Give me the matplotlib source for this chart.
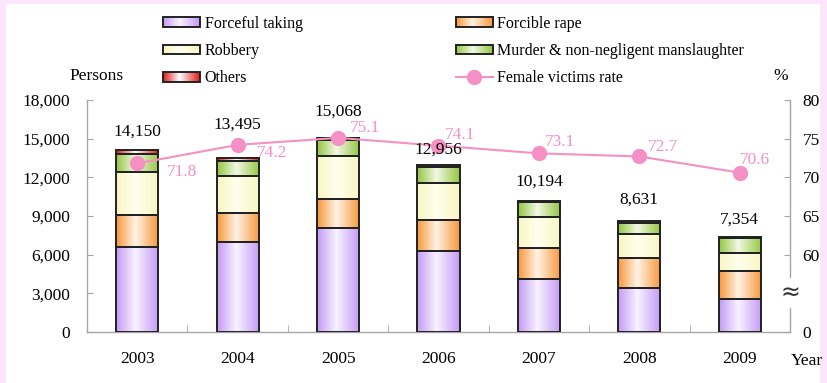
import numpy as np
import matplotlib
matplotlib.use("Agg")
import matplotlib.pyplot as plt
from matplotlib.colors import LinearSegmentedColormap
from matplotlib.patches import Rectangle
from matplotlib.lines import Line2D
from matplotlib.legend_handler import HandlerBase
from matplotlib.image import BboxImage
from matplotlib.transforms import Bbox, TransformedBbox

plt.rcParams['font.family'] = ['Liberation Serif', 'DejaVu Serif']

# ---- data ----
years = ['2003', '2004', '2005', '2006', '2007', '2008', '2009']
forceful_taking = [6600, 7000, 8050, 6300, 4100, 3400, 2550]
forcible_rape = [2500, 2200, 2300, 2400, 2450, 2380, 2200]
robbery = [3300, 2900, 3330, 2850, 2350, 1800, 1370]
murder = [1400, 1150, 1220, 1230, 1180, 900, 1150]
others = [350, 245, 168, 176, 114, 151, 84]
totals = [14150, 13495, 15068, 12956, 10194, 8631, 7354]
female_rate = [71.8, 74.2, 75.1, 74.1, 73.1, 72.7, 70.6]

series_names = ['Forceful taking', 'Forcible rape', 'Robbery',
                'Murder & non-negligent manslaughter', 'Others']

# edge colour / centre colour for the shaded bar fills
shades = {
    'Forceful taking': ('#c39af5', '#f8f2ff'),
    'Forcible rape': ('#f7973a', '#fff3e6'),
    'Robbery': ('#f8f6c0', '#ffffee'),
    'Murder & non-negligent manslaughter': ('#92c640', '#f2f8e4'),
    'Others': ('#e01818', '#ffffff'),
}
line_color = '#f590c4'
FS = 12.5
LFS = 11.5


def shade_cmap(edge, centre):
    return LinearSegmentedColormap.from_list(
        'shade', [(0.0, edge), (0.45, centre), (1.0, edge)])


grad = np.linspace(0, 1, 256).reshape(1, -1)


class GradientHandler(HandlerBase):
    def __init__(self, cmap):
        super().__init__()
        self.cmap = cmap

    def create_artists(self, legend, orig_handle, xdescent, ydescent,
                       width, height, fontsize, trans):
        bb = TransformedBbox(Bbox.from_bounds(-xdescent, -ydescent, width, height), trans)
        img = BboxImage(bb, cmap=self.cmap, interpolation='bilinear')
        img.set_data(grad)
        rect = Rectangle((-xdescent, -ydescent), width, height,
                         facecolor='none', edgecolor='#222222', linewidth=1.4,
                         transform=trans)
        return [img, rect]


W, H = 828, 383
fig = plt.figure(figsize=(W / 100, H / 100), dpi=100, facecolor='#fde6fb')
fig.patches.append(Rectangle((6 / W, 0), (W - 14) / W, (H - 4) / H,
                             transform=fig.transFigure, facecolor='white',
                             edgecolor='none', zorder=-10))

ax = fig.add_axes([87 / W, (H - 332) / H, (790 - 87) / W, (332 - 100) / H])
ax.set_facecolor('none')
x = np.arange(len(years))
bw = 0.42

stack = [forceful_taking, forcible_rape, robbery, murder, others]
bottom = np.zeros(len(years))
cmaps = {}
for name, vals in zip(series_names, stack):
    vals = np.asarray(vals, dtype=float)
    cm = shade_cmap(*shades[name])
    cmaps[name] = cm
    bars = ax.bar(x, vals, bw, bottom=bottom, facecolor='none',
                  edgecolor='#222222', linewidth=1.4, zorder=3)
    for p in bars:
        x0, y0 = p.get_x(), p.get_y()
        ax.imshow(grad, extent=(x0, x0 + p.get_width(), y0, y0 + p.get_height()),
                  cmap=cm, aspect='auto', interpolation='bilinear', zorder=2)
    bottom += vals

ax.set_xlim(-0.5, len(years) - 0.5)
ax.set_ylim(0, 18000)
ax.set_aspect('auto')

# left axis styling
for s in ['top', 'right']:
    ax.spines[s].set_visible(False)
for s in ['left', 'bottom']:
    ax.spines[s].set_color('#a6a6a6')
    ax.spines[s].set_linewidth(1.0)
ax.set_yticks(np.arange(0, 18001, 3000))
ax.set_yticklabels([f'{v:,}' for v in range(0, 18001, 3000)])
ax.tick_params(axis='y', direction='in', length=4, color='#a6a6a6',
               labelsize=FS, pad=12)
ax.set_xticks(x)
ax.set_xticklabels(years)
ax.tick_params(axis='x', which='major', length=0, labelsize=FS, pad=13.5)
ax.set_xticks(np.arange(0.5, len(years) - 1, 1.0), minor=True)
ax.tick_params(axis='x', which='minor', direction='in', length=5, color='#a6a6a6')

# right axis (percent, broken between 0 and 60)
ax2 = ax.twinx()
ax2.set_ylim(50, 80)
for s in ['top', 'left', 'bottom', 'right']:
    ax2.spines[s].set_visible(False)
ax2.set_yticks([50, 60, 65, 70, 75, 80])
ax2.set_yticklabels(['0', '60', '65', '70', '75', '80'])
ax2.tick_params(axis='y', direction='in', length=4, color='#a6a6a6',
                labelsize=FS, pad=9)
rt = ax2.get_yaxis_transform()
ax2.plot([1, 1], [50, 53.1], transform=rt, color='#a6a6a6', lw=1.0, clip_on=False)
ax2.plot([1, 1], [57.1, 80], transform=rt, color='#a6a6a6', lw=1.0, clip_on=False)
ax2.text(1.0, 55.1, '\u2248', transform=rt, ha='center', va='center',
         fontsize=17, color='#333333', family='DejaVu Sans', rotation=0)

ax2.plot(x, female_rate, color=line_color, lw=1.5, marker='o', markersize=10,
         markeredgecolor=line_color, markerfacecolor=line_color, zorder=6)
rate_offsets = [(21, -6.5), (13.7, -5.8), (8.6, 7.2), (4.3, 7.9),
                (4.3, 7.9), (5.8, 6.5), (0, 9.4)]
for xi, r, (dx, dy) in zip(x, female_rate, rate_offsets):
    ax2.annotate(f'{r}', (xi, r), xytext=(dx, dy), textcoords='offset points',
                 ha='left', va='center', fontsize=FS, color=line_color, zorder=7)

# total labels above each bar, drawn over the rate line
total_offsets = [13, 24, 19, 11, 14, 15, 13]
for xi, t, off in zip(x, totals, total_offsets):
    ax2.annotate(f'{t:,}', (xi, t), xycoords=ax.transData, xytext=(0, off),
                 textcoords='offset points', ha='center', va='center',
                 fontsize=FS, color='black', zorder=8)

# axis captions
fig.text(97 / W, 1 - 76 / H, 'Persons', ha='center', va='center', fontsize=FS)
fig.text(781 / W, 1 - 76 / H, '%', ha='center', va='center', fontsize=FS)
fig.text(807 / W, 1 - 361 / H, 'Year', ha='center', va='center', fontsize=FS)

# legend
handles = []
labels = []
handler_map = {}
order = ['Forceful taking', 'Robbery', 'Others', 'Forcible rape',
         'Murder & non-negligent manslaughter']
for name in order:
    h = Rectangle((0, 0), 1, 1, label=name)
    handles.append(h)
    labels.append(name)
    handler_map[h] = GradientHandler(cmaps[name])
line_handle = Line2D([], [], color=line_color, lw=1.5, marker='o', markersize=10)
handles.append(line_handle)
labels.append('Female victims rate')

leg = fig.legend(handles, labels, handler_map=handler_map, ncol=2,
                 loc='upper left', bbox_to_anchor=(163 / W, 1 - 15.5 / H),
                 frameon=False, fontsize=LFS, borderpad=0, borderaxespad=0,
                 handlelength=2.3, handleheight=0.53, handletextpad=0.3,
                 labelspacing=0.72, columnspacing=9.6)

fig.savefig('out.png', dpi=100, facecolor=fig.get_facecolor())
